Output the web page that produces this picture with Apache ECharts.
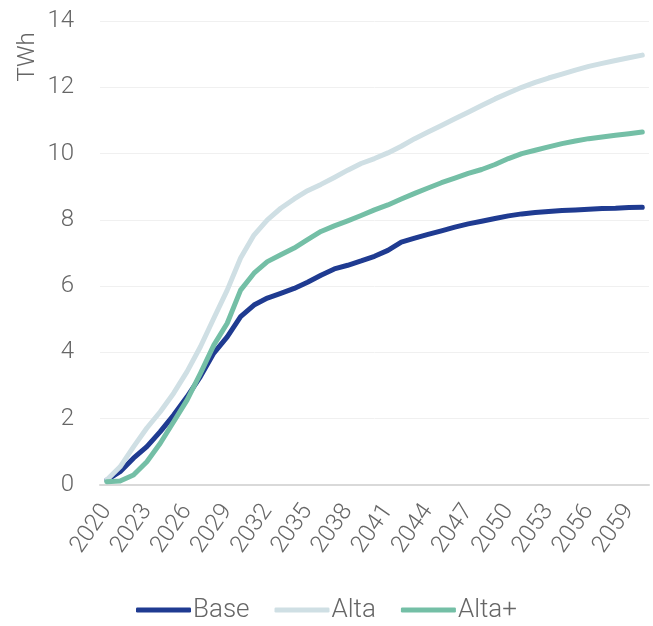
<!DOCTYPE html>
<html>
<head>
<meta charset="utf-8">
<script src="https://cdn.jsdelivr.net/npm/echarts@6/dist/echarts.min.js"></script>
<style>
html,body{margin:0;padding:0;background:#fff;}
#chart{width:653px;height:626px;}
</style>
</head>
<body>
<div id="chart"></div>
<script>
const years = ['2020','2021','2022','2023','2024','2025','2026','2027','2028','2029','2030','2031','2032','2033','2034','2035','2036','2037','2038','2039','2040','2041','2042','2043','2044','2045','2046','2047','2048','2049','2050','2051','2052','2053','2054','2055','2056','2057','2058','2059','2060'];
const base = [0.15,0.4,0.81,1.16,1.61,2.11,2.66,3.27,3.98,4.47,5.08,5.43,5.64,5.78,5.93,6.12,6.33,6.52,6.63,6.76,6.9,7.08,7.33,7.45,7.56,7.67,7.78,7.88,7.96,8.04,8.12,8.18,8.22,8.25,8.28,8.3,8.32,8.34,8.35,8.37,8.38];
const alta = [0.15,0.55,1.15,1.72,2.21,2.77,3.42,4.17,5.03,5.88,6.85,7.54,8.0,8.35,8.63,8.88,9.07,9.28,9.5,9.7,9.85,10.02,10.22,10.45,10.65,10.85,11.05,11.25,11.45,11.65,11.83,12.0,12.15,12.28,12.4,12.52,12.63,12.72,12.81,12.89,12.97];
const altaPlus = [0.1,0.12,0.3,0.7,1.26,1.91,2.56,3.37,4.22,4.88,5.88,6.39,6.74,6.95,7.15,7.4,7.65,7.82,7.97,8.13,8.3,8.45,8.63,8.8,8.96,9.12,9.26,9.4,9.52,9.67,9.85,10.0,10.1,10.2,10.3,10.38,10.45,10.5,10.55,10.6,10.65];
const seriesNames = ['Base','Alta','Alta+'];
const unitLabel = 'TWh';

const FONT = 'Roboto';
const TXT = '#666666';
const chart = echarts.init(document.getElementById('chart'));
function mk(name, data, color){
  return {name, type:'line', data, symbol:'none', smooth:false,
    lineStyle:{width:5, color, cap:'round', join:'round'}, itemStyle:{color}};
}
chart.setOption({
  animation:false,
  grid:{left:100, right:4, top:21, bottom:141},
  legend:{top:592, left:'center', icon:'roundRect', itemWidth:55, itemHeight:5, itemGap:25,
    textStyle:{fontFamily:FONT, fontWeight:300, fontSize:26, color:TXT, padding:[0,0,0,-3]},
    data:seriesNames},
  graphic:[{type:'text', x:28, y:57, rotation:Math.PI/2,
    style:{text:unitLabel, font:'300 24px '+FONT, fill:TXT, align:'center', verticalAlign:'middle'}}],
  xAxis:{type:'category', data:years, boundaryGap:true,
    axisLine:{lineStyle:{color:'#d9d9d9', width:2}}, axisTick:{show:false},
    axisLabel:{interval:2, rotate:55, margin:22, fontFamily:FONT, fontWeight:300, fontSize:24, color:TXT}},
  yAxis:{type:'value', min:0, max:14, interval:2,
    axisLine:{show:false}, axisTick:{show:false},
    splitLine:{lineStyle:{color:'#f0f0f0', width:1}},
    axisLabel:{margin:26, fontFamily:FONT, fontWeight:300, fontSize:24, color:TXT}},
  series:[mk(seriesNames[0], base, '#1f3b91'), mk(seriesNames[1], alta, '#cfdfe4'), mk(seriesNames[2], altaPlus, '#74bfa6')]
});
</script>
</body>
</html>
